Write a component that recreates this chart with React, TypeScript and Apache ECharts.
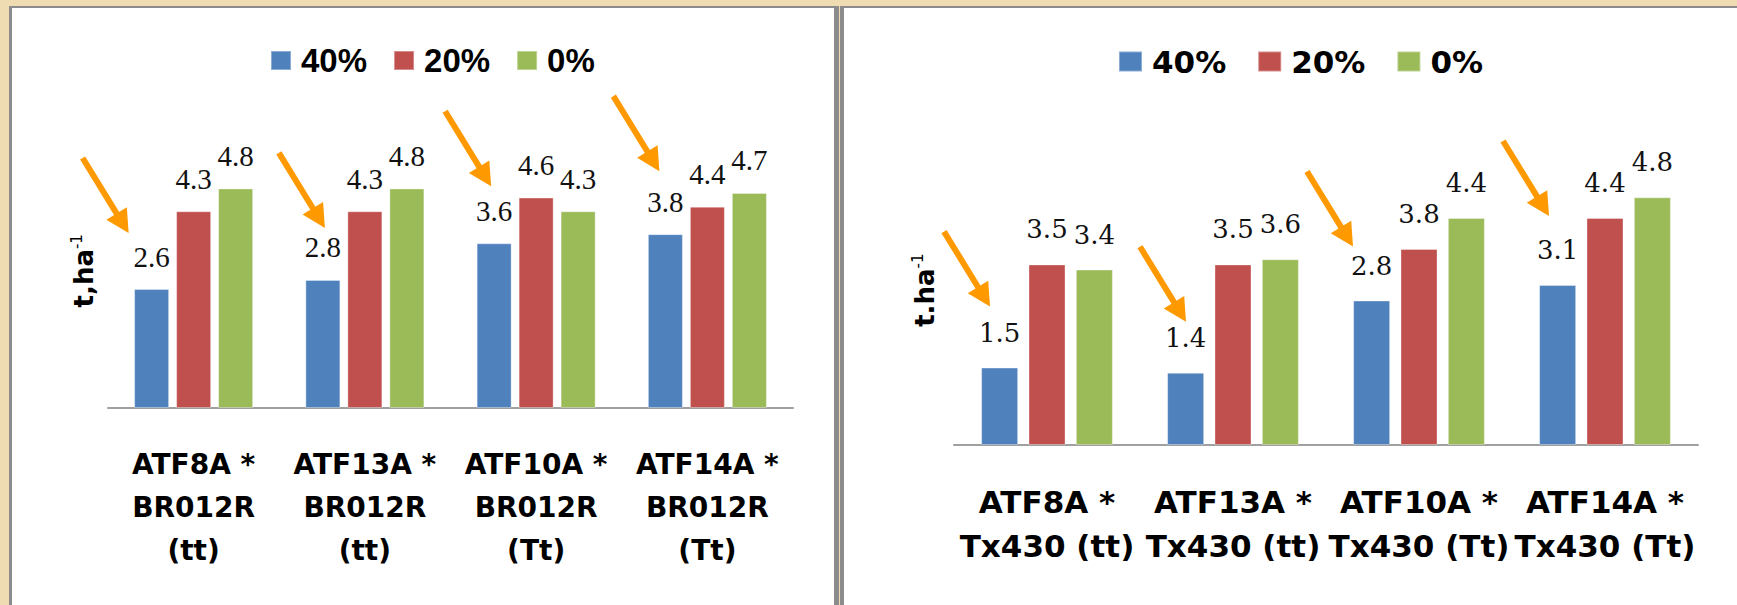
import React, { useEffect, useRef } from 'react';
import * as echarts from 'echarts';

// ---- data ----
const seriesNames = ['40%', '20%', '0%'];
const categoriesLeft = ['ATF8A *\nBR012R\n(tt)', 'ATF13A *\nBR012R\n(tt)', 'ATF10A *\nBR012R\n(Tt)', 'ATF14A *\nBR012R\n(Tt)'];
const categoriesRight = ['ATF8A *\nTx430 (tt)', 'ATF13A *\nTx430 (tt)', 'ATF10A *\nTx430 (Tt)', 'ATF14A *\nTx430 (Tt)'];
const left40 = [2.6, 2.8, 3.6, 3.8];
const left20 = [4.3, 4.3, 4.6, 4.4];
const left0 = [4.8, 4.8, 4.3, 4.7];
const right40 = [1.5, 1.4, 2.8, 3.1];
const right20 = [3.5, 3.5, 3.8, 4.4];
const right0 = [3.4, 3.6, 4.4, 4.8];
const yNameLeft = 't,ha';
const yNameRight = 't.ha';
const yNameSup = '-1';

// ---- styles ----
const COLORS = ['#4f81bd', '#c0504d', '#9bbb59'];
const ARROW_COLOR = '#ff9900';
// arrow tip offsets relative to (category centre, top of the 40% bar)
const ARROW_TIPS = [
  [[-65, -56], [-40, -52], [-45, -57], [-48, -63]],
  [[-57, -61], [-47, -51], [-66, -54], [-56, -69]],
];

function makeSeries(grid: number, datas: number[][], barWidth: number, barGap: string, font: string, size: number, dist: number) {
  return datas.map((d, i) => ({
    type: 'bar',
    name: seriesNames[i],
    xAxisIndex: grid,
    yAxisIndex: grid,
    data: d,
    barWidth,
    barGap,
    itemStyle: { color: COLORS[i], borderColor: 'rgba(255,255,255,0.35)', borderWidth: 1 },
    label: { show: true, position: 'top', distance: dist, fontFamily: font, fontSize: size, color: '#111' },
  }));
}

function yAxis(grid: number, name: string, gap: number) {
  return {
    type: 'value',
    gridIndex: grid,
    min: 0,
    max: 6,
    axisLine: { show: false },
    axisTick: { show: false },
    axisLabel: { show: false },
    splitLine: { show: false },
    name: `{a|${name}}{b|${yNameSup}}`,
    nameLocation: 'middle',
    nameRotate: 90,
    nameGap: gap,
    nameTextStyle: {
      rich: {
        a: { fontFamily: 'DejaVu Sans', fontWeight: 'bold', fontSize: 26, color: '#000', lineHeight: 30 },
        b: { fontFamily: 'DejaVu Sans', fontSize: 15, color: '#000', verticalAlign: 'top', lineHeight: 16 },
      },
    },
  };
}

function xAxis(grid: number, data: string[], size: number, lh: number) {
  return {
    type: 'category',
    gridIndex: grid,
    data,
    axisLine: { lineStyle: { color: '#a0a0a0', width: 2 } },
    axisTick: { show: false },
    axisLabel: {
      interval: 0,
      margin: 35,
      fontFamily: 'DejaVu Sans',
      fontWeight: 'bold',
      fontSize: size,
      lineHeight: lh,
      color: '#000',
    },
  };
}

export default function App() {
  const ref = useRef<HTMLDivElement>(null);
  useEffect(() => {
    document.body.style.margin = '0';
    document.body.style.overflow = 'hidden';
    const chart = echarts.init(ref.current!, undefined, { renderer: 'svg', width: 1737, height: 605 });
    chart.setOption({
      animation: false,
      backgroundColor: 'transparent',
      legend: [
        {
          left: 265, top: 39, icon: 'rect', itemWidth: 20, itemHeight: 19, itemGap: 26, selectedMode: false,
          data: seriesNames,
          textStyle: { fontFamily: 'Liberation Sans', fontWeight: 'bold', fontSize: 33, color: '#000', padding: [0, 0, 0, 5] },
        },
        {
          left: 1113, top: 41, icon: 'rect', itemWidth: 23, itemHeight: 20, itemGap: 31, selectedMode: false,
          data: seriesNames,
          textStyle: { fontFamily: 'DejaVu Sans', fontWeight: 'bold', fontSize: 31, color: '#000', padding: [0, 0, 0, 5] },
        },
      ],
      grid: [
        { left: 108, width: 685, top: 133.5, height: 274.5 },
        { left: 954, width: 744, top: 135.4, height: 309.6 },
      ],
      xAxis: [xAxis(0, categoriesLeft, 28, 43), xAxis(1, categoriesRight, 31, 44)],
      yAxis: [yAxis(0, yNameLeft, 9), yAxis(1, yNameRight, 14)],
      series: [
        ...makeSeries(0, [left40, left20, left0], 35, '20%', 'Liberation Serif', 29, 18),
        ...makeSeries(1, [right40, right20, right0], 37, '28%', 'DejaVu Serif', 26, 22),
      ],
    });

    const blue = [left40, right40];
    const graphics: any[] = [];
    const d = [46, 75];
    const len = Math.hypot(d[0], d[1]);
    const u = [d[0] / len, d[1] / len];
    const n = [-u[1], u[0]];
    const headLen = 23;
    const headHalf = 12;
    for (let g = 0; g < 2; g++) {
      for (let i = 0; i < blue[g].length; i++) {
        const p = chart.convertToPixel({ xAxisIndex: g, yAxisIndex: g }, [i, blue[g][i]]) as number[];
        const off = ARROW_TIPS[g][i];
        const tip = [p[0] + off[0], p[1] + off[1]];
        const base = [tip[0] - u[0] * headLen, tip[1] - u[1] * headLen];
        const tail = [tip[0] - d[0], tip[1] - d[1]];
        graphics.push({
          type: 'line', z: 100,
          shape: { x1: tail[0], y1: tail[1], x2: base[0] + u[0] * 2, y2: base[1] + u[1] * 2 },
          style: { stroke: ARROW_COLOR, lineWidth: 6 },
        });
        graphics.push({
          type: 'polygon', z: 100,
          shape: {
            points: [
              tip,
              [base[0] + n[0] * headHalf, base[1] + n[1] * headHalf],
              [base[0] - n[0] * headHalf, base[1] - n[1] * headHalf],
            ],
          },
          style: { fill: ARROW_COLOR },
        });
      }
    }
    chart.setOption({ graphic: graphics });
    return () => chart.dispose();
  }, []);

  return (
    <div style={{ position: 'relative', width: 1737, height: 605, background: '#efdcb2', overflow: 'hidden' }}>
      <div
        style={{
          position: 'absolute', left: 9, top: 6, width: 830, height: 700, boxSizing: 'border-box', background: '#fff',
          borderLeft: '3px solid #8c8c8c', borderTop: '2px solid #8c8c8c', borderRight: '5px solid #8c8c8c',
        }}
      />
      <div
        style={{
          position: 'absolute', left: 840, top: 6, width: 1000, height: 700, boxSizing: 'border-box', background: '#fff',
          borderLeft: '4px solid #8c8c8c', borderTop: '2px solid #8c8c8c',
        }}
      />
      <div ref={ref} style={{ position: 'absolute', left: 0, top: 0, width: 1737, height: 605 }} />
    </div>
  );
}
